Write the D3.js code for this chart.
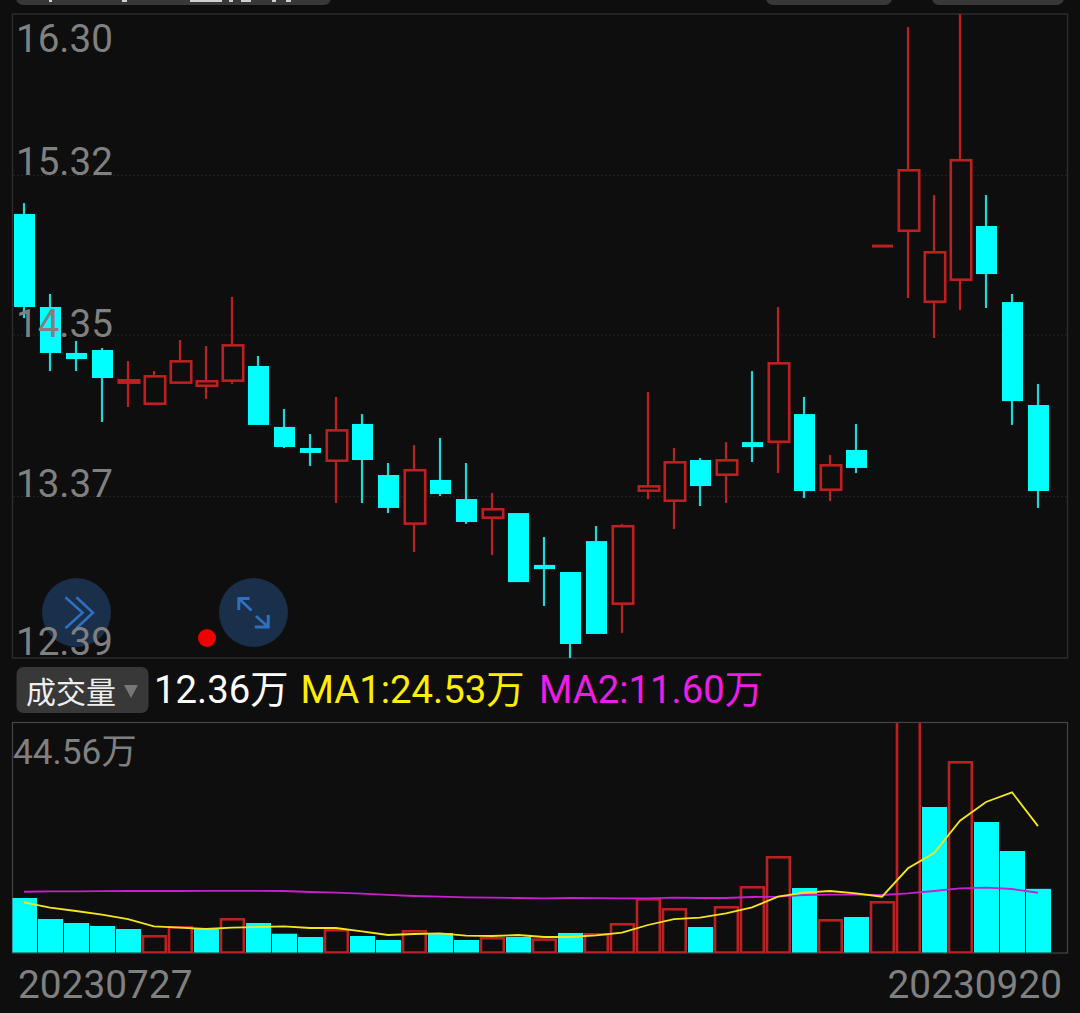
<!DOCTYPE html>
<html>
<head>
<meta charset="utf-8">
<script src="https://cdn.jsdelivr.net/npm/d3@7/dist/d3.min.js"></script>
<style>
  html, body { margin:0; padding:0; background:#0e0e0e; }
  svg { display:block; }
  text { font-family:Roboto, "Noto Sans CJK SC", sans-serif; }
</style>
</head>
<body>
<svg id="chart" width="1080" height="1013"></svg>
<script>
"use strict";

// daily candles
let opens  = [15.086,14.521,14.242,14.260,14.054,13.926,14.054,14.035,14.066,14.163,13.793,13.665,13.580,13.811,13.501,13.198,13.471,13.355,13.234,13.270,12.955,12.912,13.100,12.712,13.398,13.337,13.592,13.495,13.701,13.695,13.871,13.404,13.653,14.891,14.976,14.545,14.679,15.013,14.551,13.926];
let closes = [14.521,14.242,14.205,14.090,14.084,14.108,14.199,14.078,14.296,13.805,13.671,13.635,13.780,13.592,13.301,13.538,13.386,13.216,13.301,12.851,12.930,12.475,12.536,13.198,13.440,13.586,13.434,13.598,13.671,14.187,13.404,13.568,13.544,14.891,15.359,14.861,15.420,14.721,13.950,13.404];
let highs  = [15.152,14.600,14.315,14.272,14.193,14.132,14.321,14.284,14.582,14.224,13.902,13.750,13.975,13.871,13.574,13.683,13.726,13.574,13.392,13.270,13.125,12.912,13.191,13.204,14.005,13.665,13.604,13.701,14.132,14.521,13.975,13.623,13.811,14.891,16.221,15.201,16.300,15.201,14.600,14.054];
let lows   = [14.454,14.132,14.132,13.823,13.914,13.926,14.054,13.963,14.054,13.805,13.665,13.556,13.331,13.331,13.270,13.034,13.374,13.204,13.015,12.851,12.706,12.390,12.536,12.542,13.355,13.173,13.313,13.331,13.580,13.513,13.361,13.343,13.513,14.891,14.576,14.333,14.503,14.515,13.805,13.301];

// volume in 万, up = hollow red bar
let volumes = [10.58,6.50,5.73,5.15,4.56,3.40,5.15,4.56,6.70,5.73,3.65,3.01,4.56,3.20,2.43,4.37,3.79,2.43,3.01,3.01,2.76,3.79,3.79,5.73,10.58,8.64,4.95,9.03,12.91,18.74,12.52,6.50,6.89,10.00,46.00,28.25,37.18,25.34,19.71,12.36];
let volumeUp = [0,0,0,0,0,1,1,0,1,0,0,0,1,0,0,1,0,0,1,0,1,0,1,1,1,1,0,1,1,1,0,1,0,1,1,0,1,0,0,0];
let ma1 = [9.75,8.70,8.06,7.34,6.50,5.09,4.82,4.56,4.82,4.95,5.09,4.76,4.76,4.12,3.40,3.59,3.73,3.26,3.20,3.40,3.01,3.01,3.34,3.84,5.34,6.50,6.76,7.61,8.78,10.83,11.61,11.94,11.49,10.83,16.35,19.32,25.59,29.22,31.10,24.53];
let ma2 = [11.80,11.85,11.87,11.92,11.94,11.94,11.94,11.96,11.96,11.96,11.94,11.75,11.62,11.42,11.20,10.97,10.85,10.72,10.65,10.58,10.52,10.58,10.55,10.52,10.52,10.64,10.58,10.58,10.78,10.83,11.16,11.22,11.22,11.16,11.49,11.94,12.47,12.58,12.33,11.60];

let priceTicks = [16.30,15.32,14.35,13.37,12.39];
let gridTicks = [15.32,14.35,13.37];
let volumeMax = 44.56;
let dateLabels = ["20230727","20230920"];
let legendLabels = ["12.36万","MA1:24.53万","MA2:11.60万"];

const RED = "#bc2020", CYAN = "#00ffff", GREY = "#808080", BG = "#0e0e0e";

let svg = d3.select("#chart");
let defs = svg.append("defs");
let days = d3.range(opens.length);

let x = d3.scalePoint().domain(days).range([24,1038]);
let yPrice = d3.scaleLinear().domain([12.39,16.30]).range([658,14]);
let yVol = d3.scaleLinear().domain([0,volumeMax]).range([952.5,723]);

defs.append("clipPath").attr("id","volClip")
  .append("rect").attr("x",12.5).attr("y",723).attr("width",1055).attr("height",230);

// remains of the toolbar, cut off by the top of the screen
let tabs = [[16,315],[766,126],[932,132]];
svg.append("g").selectAll("rect").data(tabs).join("rect")
  .attr("x",d=>d[0]).attr("y",-12).attr("width",d=>d[1]).attr("height",17)
  .attr("rx",7).attr("fill","#383838");
let tabMarks = [[49,3],[122,5],[190,32],[229,4],[241,10],[272,4],[286,5]];
svg.append("g").selectAll("rect").data(tabMarks).join("rect")
  .attr("x",d=>d[0]).attr("y",0).attr("width",d=>d[1]).attr("height",2)
  .attr("fill","#cfcfcf");

// frames
svg.append("rect").attr("x",12.5).attr("y",14).attr("width",1055).attr("height",644)
  .attr("fill","none").attr("stroke","#2c2c2c").attr("stroke-width",1.5);
svg.append("rect").attr("x",12.5).attr("y",722.5).attr("width",1055).attr("height",230.5)
  .attr("fill","none").attr("stroke","#454545").attr("stroke-width",1.2);

svg.append("g").selectAll("line").data(gridTicks).join("line")
  .attr("x1",13).attr("x2",1067)
  .attr("y1",d=>yPrice(d)).attr("y2",d=>yPrice(d))
  .attr("stroke","#212121").attr("stroke-width",1.2).attr("stroke-dasharray","2 2");

// candles
let isUp = i => closes[i]>opens[i];
let isDoji = i => closes[i]==opens[i];
let bodyH = i => Math.abs(yPrice(opens[i])-yPrice(closes[i]));

let candles = svg.append("g").selectAll("g").data(days).join("g");
candles.append("line")
  .attr("x1",i=>x(i)).attr("x2",i=>x(i))
  .attr("y1",i=>yPrice(highs[i])).attr("y2",i=>yPrice(lows[i]))
  .attr("stroke",i=>(isUp(i)||isDoji(i))?RED:"#1fd6da").attr("stroke-width",2.2);

// body edges were read on the outside of the stroke, so pull the red ones in by half of it
candles.append("rect")
  .attr("x",i=>isUp(i)?x(i)-9.2:x(i)-10)
  .attr("width",i=>isUp(i)?20.4:21)
  .attr("y",i=>{
    let top = yPrice(Math.max(opens[i],closes[i]));
    return isUp(i)?top+1.3:(isDoji(i)?top-1.5:top);
  })
  .attr("height",i=>isUp(i)?Math.max(0,bodyH(i)-2.6):(isDoji(i)?3:bodyH(i)))
  .attr("fill",i=>isUp(i)?BG:(isDoji(i)?RED:CYAN))
  .attr("stroke",i=>isUp(i)?RED:"none")
  .attr("stroke-width",2.6);

// the two round buttons and the dot
let buttons = svg.append("g");
buttons.selectAll("circle").data([76.5,253.5]).join("circle")
  .attr("cx",d=>d).attr("cy",612.5).attr("r",34.5)
  .attr("fill","#1a2f4a");
buttons.append("path")
  .attr("d","M65.4 597.3L82.6 612.7L65.4 628.3M76.4 597.3L93 612.7L76.4 628.3")
  .attr("fill","none").attr("stroke","#2f6fc0").attr("stroke-width",2.6);
buttons.append("path")
  .attr("d","M249.6 598.5H238.8V610M238.8 598.5L251.5 610.5M254.8 627H268.2V615M268.2 627L256 616")
  .attr("fill","none").attr("stroke","#2f6fc0").attr("stroke-width",3);
svg.append("circle").attr("cx",207).attr("cy",638).attr("r",9).attr("fill","#f00000");

// price labels
svg.append("g").selectAll("text").data(priceTicks).join("text")
  .attr("x",16)
  .attr("y",(d,i)=>[52,175,337,497,655][i])
  .attr("font-size",38.6).attr("fill",GREY)
  .text(d=>d3.format(".2f")(d));

// volume legend row
svg.append("rect").attr("x",16.5).attr("y",667).attr("width",132).attr("height",46)
  .attr("rx",7).attr("fill","#383838");
svg.append("text").attr("x",26).attr("y",703).attr("font-size",30).attr("fill","#eeeeee").text("成交量");
svg.append("path").attr("d","M124 685H138L131 698Z").attr("fill","#777777");
svg.append("g").selectAll("text").data(legendLabels).join("text")
  .attr("x",(d,i)=>[154,300.5,539][i]).attr("y",703)
  .attr("font-size",38.3).attr("fill",(d,i)=>["#ffffff","#ffee00","#ee1ce6"][i])
  .text(d=>d);

// volume bars
let volG = svg.append("g").attr("clip-path","url(#volClip)");
volG.selectAll("rect").data(days).join("rect")
  .attr("x",i=>volumeUp[i]?x(i)-11:x(i)-12)
  .attr("width",i=>volumeUp[i]?22.8:25)
  .attr("y",i=>volumeUp[i]?yVol(volumes[i])+1.3:yVol(volumes[i]))
  .attr("height",i=>yVol(0)-yVol(volumes[i])-(volumeUp[i]?1.3:0))
  .attr("fill",i=>volumeUp[i]?BG:CYAN)
  .attr("stroke",i=>volumeUp[i]?RED:"none")
  .attr("stroke-width",2.6);

let line = d3.line().x((d,i)=>x(i)).y(d=>yVol(d));
volG.append("path").datum(ma2).attr("d",line)
  .attr("fill","none").attr("stroke","#c81fd0").attr("stroke-width",1.8);
volG.append("path").datum(ma1).attr("d",line)
  .attr("fill","none").attr("stroke","#f5e51c").attr("stroke-width",1.8);

svg.append("text").attr("x",13).attr("y",764).attr("font-size",35.2).attr("fill",GREY).text("44.56万");

// dates
svg.append("text").attr("x",18).attr("y",998).attr("font-size",38.8).attr("fill",GREY).text(dateLabels[0]);
svg.append("text").attr("x",1062).attr("y",998).attr("text-anchor","end").attr("font-size",38.8).attr("fill",GREY).text(dateLabels[1]);
</script>
</body>
</html>
